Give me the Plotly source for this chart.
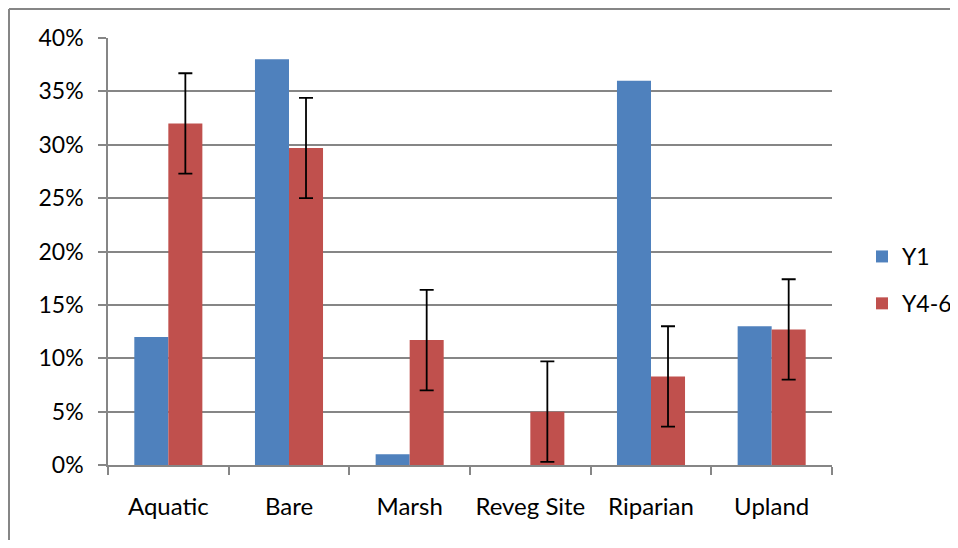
import plotly.graph_objects as go

categories = ["Aquatic", "Bare", "Marsh", "Reveg Site", "Riparian", "Upland"]
y1 = [0.12, 0.38, 0.01, 0.0, 0.36, 0.13]
y46 = [0.32, 0.297, 0.117, 0.05, 0.083, 0.127]
y46_err = [0.047, 0.047, 0.047, 0.047, 0.047, 0.047]

FONT = "Lato"
# figure is placed by the page at (8, 8)
W, H = 950, 532
L, T = 100, 30
pw, ph = 724, 427
R, B = W - L - pw, H - T - ph

fig = go.Figure()
fig.add_trace(go.Bar(name="Y1", x=categories, y=y1, marker=dict(color="#4F81BD", line=dict(width=0)),
                     legendgroup="a"))
fig.add_trace(go.Bar(name="Y4-6", x=categories, y=y46, marker=dict(color="#C0504D", line=dict(width=0)),
                     error_y=dict(type="data", array=y46_err, visible=True, color="black", thickness=1.8, width=7),
                     legendgroup="b"))

def px_x(p):
    return (p - L) / pw

def px_y(p):
    return (T + ph - p) / ph

fig.update_layout(
    width=W, height=H,
    margin=dict(l=L, r=R, t=T, b=B, autoexpand=False),
    paper_bgcolor="white", plot_bgcolor="white",
    barmode="group", bargap=0.436, bargroupgap=0,
    font=dict(family=FONT, size=23, color="black"),
    showlegend=True,
    legend=dict(xref="container", yref="container", x=854 / W, y=(H - 272) / H,
                xanchor="left", yanchor="middle",
                font=dict(size=23), tracegroupgap=14, bgcolor="rgba(0,0,0,0)"),
    xaxis=dict(type="category", showline=True, linecolor="#868686", linewidth=1.5,
               ticks="outside", tickson="boundaries", ticklen=8, tickcolor="#868686", tickwidth=1.5,
               showgrid=False, ticklabelstandoff=19, tickfont=dict(size=24)),
    yaxis=dict(range=[0, 0.4], dtick=0.05, tickformat=".0%", showline=True, linecolor="#868686",
               linewidth=1.5, ticks="outside", ticklen=8, tickcolor="#868686", tickwidth=1.5,
               showgrid=True, gridcolor="#868686", gridwidth=1.5, zeroline=False,
               tickfont=dict(size=23), ticklabelstandoff=10),
    shapes=[
        dict(type="line", xref="paper", yref="paper", x0=px_x(1), x1=px_x(W + 5), y0=px_y(1), y1=px_y(1),
             line=dict(color="#868686", width=2)),
        dict(type="line", xref="paper", yref="paper", x0=px_x(1), x1=px_x(1), y0=px_y(1), y1=px_y(H + 5),
             line=dict(color="#868686", width=2)),
    ],
)

fig.write_html("out.html")
